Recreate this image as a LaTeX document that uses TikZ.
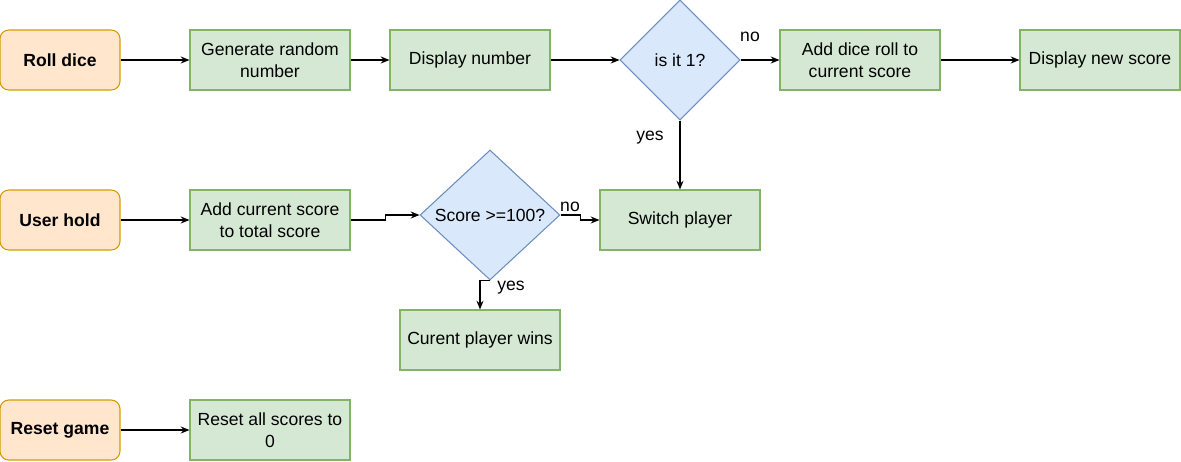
\documentclass[tikz,border=0pt]{standalone}
\usepackage{fontspec}
\setmainfont{Liberation Sans}
\usetikzlibrary{shapes.geometric, arrows.meta, positioning}

\definecolor{startfill}{HTML}{FFE6CC}
\definecolor{startdraw}{HTML}{D79B00}
\definecolor{stepfill}{HTML}{D5E8D4}
\definecolor{stepdraw}{HTML}{82B366}
\definecolor{decfill}{HTML}{DAE8FC}
\definecolor{decdraw}{HTML}{6C8EBF}

\tikzset{
  startbox/.style={draw=startdraw, fill=startfill, rounded corners=5pt, line width=0.6pt,
    minimum width=2.4cm, minimum height=1.2cm, font=\fontsize{10}{12.5}\selectfont\bfseries},
  stepbox/.style={draw=stepdraw, fill=stepfill, line width=0.6pt,
    minimum width=3.2cm, minimum height=1.2cm, align=center},
  decision/.style={diamond, draw=decdraw, fill=decfill, line width=0.6pt, inner sep=0pt},
  conn/.style={-{Stealth[length=5pt,width=4pt]}, line width=0.6pt},
  lbl/.style={inner sep=1pt}
}

\begin{document}
\begin{tikzpicture}[x=0.02cm, y=-0.02cm, font=\fontsize{10}{12.5}\selectfont]
\useasboundingbox (0,0) rectangle (1181,461);

% Roll dice row
\node[startbox] (roll) at (60,60) {Roll dice};
\node[stepbox] (gen) at (270,60) {Generate random\\number};
\node[stepbox] (disp) at (470,60) {Display number};
\node[decision, minimum width=2.4cm, minimum height=2.4cm] (one) at (680,60) {is it 1?};
\node[stepbox] (add) at (860,60) {Add dice roll to\\current score};
\node[stepbox] (newsc) at (1100,60) {Display new score};

% User hold row
\node[startbox] (hold) at (60,220) {User hold};
\node[stepbox] (sum) at (270,220) {Add current score\\to total score};
\node[decision, minimum width=2.8cm, minimum height=2.6cm] (hundred) at (490,215) {Score >=100?};
\node[stepbox] (switch) at (680,220) {Switch player};
\node[stepbox] (win) at (480,340) {Curent player wins};

% Reset row
\node[startbox] (reset) at (60,430) {Reset game};
\node[stepbox] (zero) at (270,430) {Reset all scores to\\0};

% Connectors
\draw[conn] (roll) -- (gen);
\draw[conn] (gen) -- (disp);
\draw[conn] (disp) -- (one);
\draw[conn] (one) -- (add);
\draw[conn] (add) -- (newsc);
\draw[conn] (one) -- (switch);
\draw[conn] (hold) -- (sum);
\draw[conn] (sum.east) -- +(35,0) |- (hundred.west);
\draw[conn] (hundred.east) -- +(20,0) |- (switch.west);
\draw[conn] (hundred.south) -| (win.north);
\draw[conn] (reset) -- (zero);

% Labels
\node[lbl] (noone) at (750,37) {no};
\node[lbl] (yesone) at (650,138) {yes};
\node[lbl] (nohundred) at (570,207) {no};
\node[lbl] (yeshundred) at (511,288) {yes};
\end{tikzpicture}
\end{document}
